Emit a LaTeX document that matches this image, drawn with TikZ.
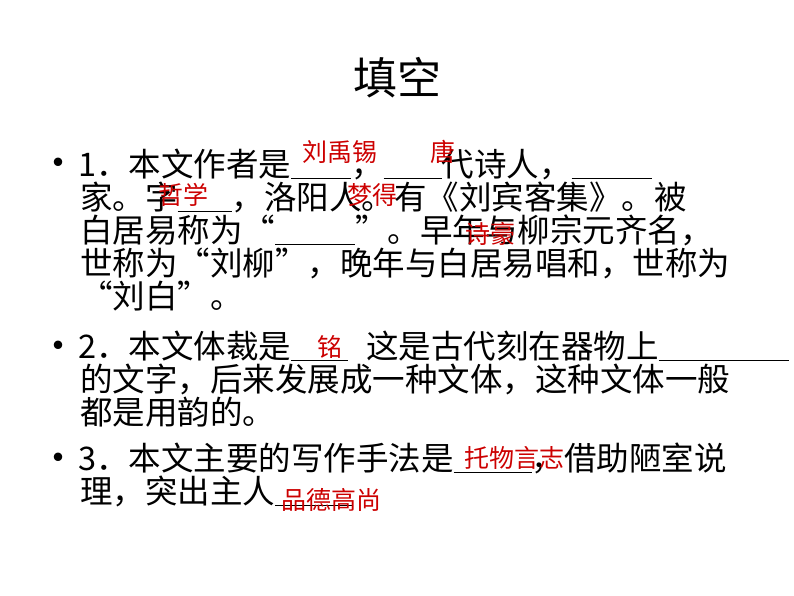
\documentclass[tikz,border=0pt]{standalone}
\usepackage{fontspec}
\setmainfont{Noto Sans CJK SC}
\newcommand{\blk}[1]{\rule[-3pt]{#1pt}{1.2pt}}
\definecolor{ans}{RGB}{204,0,0}
\begin{document}
\begin{tikzpicture}[x=1pt,y=-1pt,
  ln/.style={anchor=base west,inner sep=0,font=\fontsize{32.5}{32}\selectfont},
  an/.style={anchor=base,inner sep=0,text=ans,font=\fontsize{25}{25}\selectfont},
  bul/.style={anchor=base,inner sep=0,font=\fontsize{40}{40}\selectfont}]
\useasboundingbox (0,0) rectangle (794,596);
\node[anchor=base,inner sep=0,font=\fontsize{44}{44}\selectfont] (title) at (397,95) {填空};
\node[bul] (b1) at (58,178) {•};
\node[ln] (l1) at (78,176) {1．本文作者是\blk{60}，\blk{58}代诗人，\blk{80}};
\node[ln] (l2) at (80,209) {家。字\blk{54}，洛阳人。有《刘宾客集》。被};
\node[ln] (l3) at (80,242) {白居易称为“\blk{80}”。早年与柳宗元齐名，};
\node[ln] (l4) at (80,275) {世称为“刘柳”，晚年与白居易唱和，世称为};
\node[ln] (l5) at (80,308) {“刘白”。};
\node[bul] (b2) at (58,360) {•};
\node[ln] (l6) at (78,358) {2．本文体裁是\blk{57}\hspace{18pt}这是古代刻在器物上\blk{130}};
\node[ln] (l7) at (80,391) {的文字，后来发展成一种文体，这种文体一般};
\node[ln] (l8) at (80,424) {都是用韵的。};
\node[bul] (b3) at (58,472) {•};
\node[ln] (l9) at (78,470) {3．本文主要的写作手法是\blk{78}，借助陋室说};
\node[ln] (l10) at (80,503) {理，突出主人\blk{78}};
\node[an] (a1) at (340,161) {刘禹锡};
\node[an] (a2) at (443,161) {唐};
\node[an] (a3) at (183,204) {哲学};
\node[an] (a4) at (372,204) {梦得};
\node[an] (a5) at (490,243) {诗豪};
\node[an] (a6) at (330,356) {铭};
\node[an] (a7) at (514,467) {托物言志};
\node[an] (a8) at (331,509) {品德高尚};
\end{tikzpicture}
\end{document}
